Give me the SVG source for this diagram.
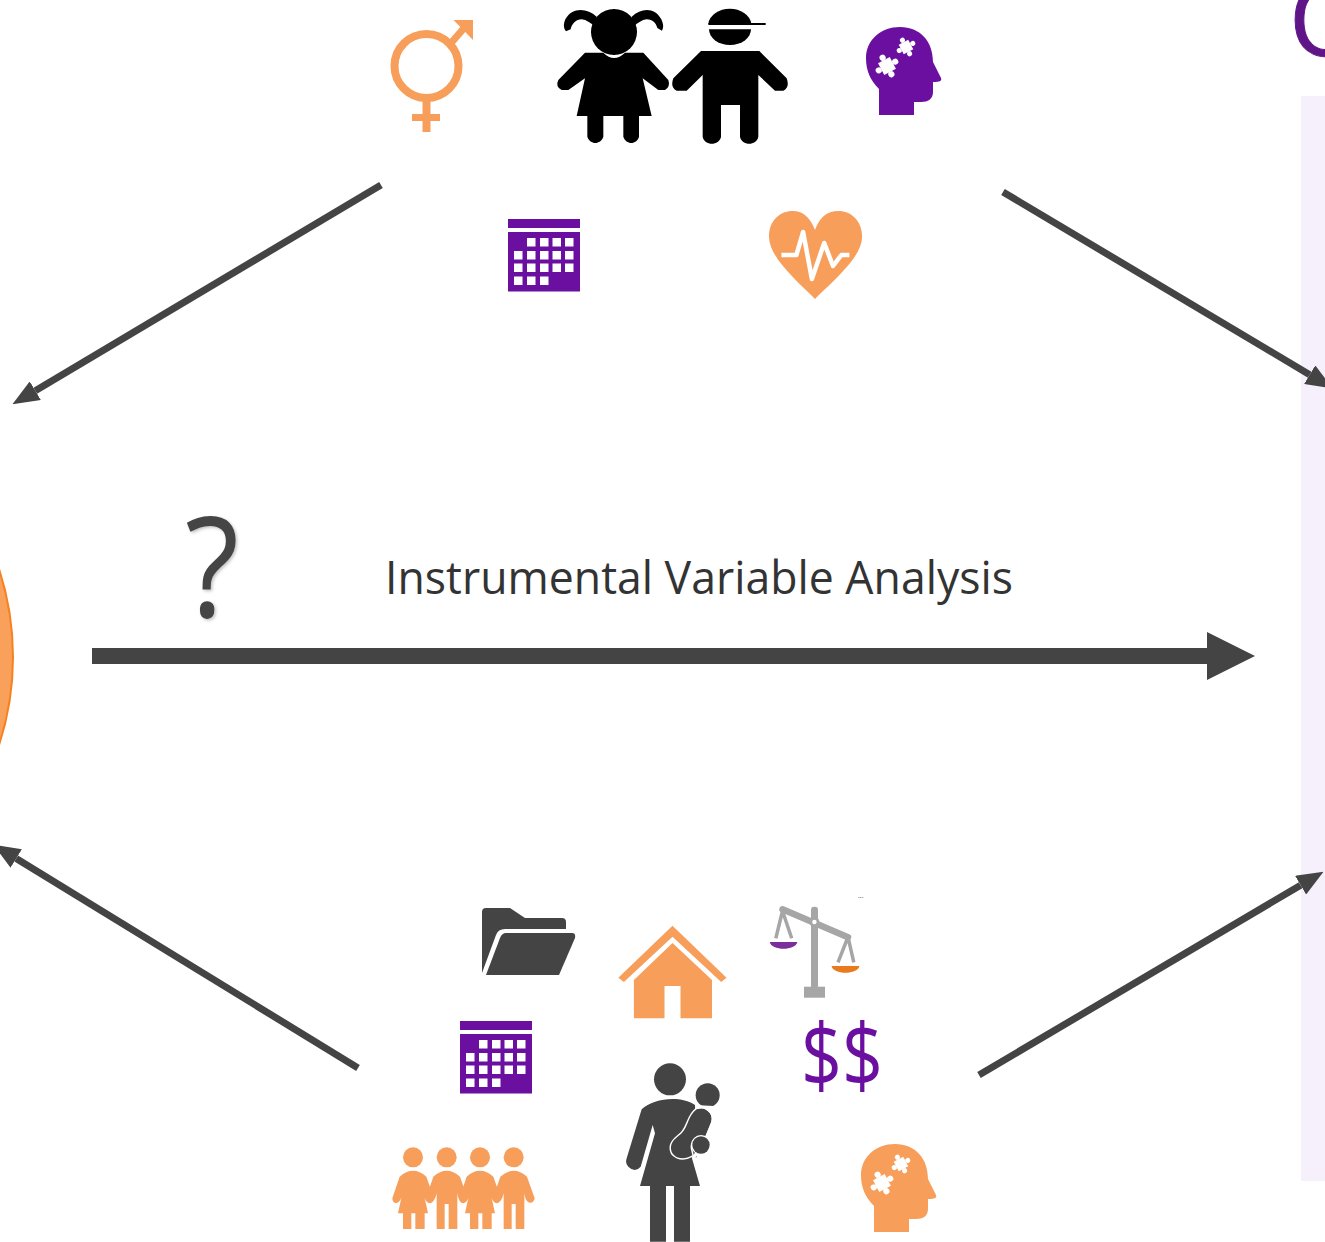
<svg xmlns="http://www.w3.org/2000/svg" xmlns:xlink="http://www.w3.org/1999/xlink" width="1325" height="1242" viewBox="0 0 1325 1242">
<style>
.o{fill:#F79E5A}.p{fill:#6B0FA0}.d{fill:#444444}.w{fill:#fff}.k{fill:#000}
.c{stroke:#444444;stroke-width:7;fill:none}
text{font-family:"Open Sans","Noto Sans","Liberation Sans",sans-serif}
</style>
<defs>
<marker id="ah" markerUnits="strokeWidth" markerWidth="3.8" markerHeight="3.1" refX="0" refY="1.55" orient="auto"><path d="M0,0L3.8,1.55L0,3.1Z" fill="#444444"/></marker>
<marker id="ahm" markerUnits="strokeWidth" markerWidth="3" markerHeight="3" refX="0" refY="1.5" orient="auto"><path d="M0,0L3,1.5L0,3Z" fill="#444444"/></marker>
<filter id="sh" x="-20%" y="-20%" width="140%" height="140%"><feDropShadow dx="1.5" dy="1.5" stdDeviation="1.5" flood-color="#000" flood-opacity=".25"/></filter>
<g id="piece"><rect x="-6" y="-6" width="12" height="12"/><circle cx="8.500" cy="0" r="2.800"/><circle cx="-8.500" cy="0" r="2.800"/><circle cx="0" cy="8.500" r="2.800"/><circle cx="0" cy="-8.500" r="2.800"/></g>
<g id="head"><path d="M13,88V62C4,53 0,43 0,31C0,13 15,0 34,0C54,0 67,14 67,35L75,51C76,54 74,55 67,55V65C67,72 62,75 55,75H48V88Z"/><use href="#piece" transform="translate(21,39) rotate(-28) scale(1.1)" fill="#fff"/><use href="#piece" transform="translate(40,20) rotate(-28) scale(.9)" fill="#fff"/></g>
<g id="cal"><rect x="0" y="0" width="72" height="9"/><rect x="0" y="13" width="72" height="59.500"/>
<g fill="#fff"><rect x="19" y="19" width="8.500" height="8.500"/><rect x="32" y="19" width="8.500" height="8.500"/><rect x="44.500" y="19" width="8.500" height="8.500"/><rect x="57" y="19" width="8.500" height="8.500"/>
<rect x="6" y="32" width="8.500" height="8.500"/><rect x="19" y="32" width="8.500" height="8.500"/><rect x="32" y="32" width="8.500" height="8.500"/><rect x="44.500" y="32" width="8.500" height="8.500"/><rect x="57" y="32" width="8.500" height="8.500"/>
<rect x="6" y="44.500" width="8.500" height="8.500"/><rect x="19" y="44.500" width="8.500" height="8.500"/><rect x="32" y="44.500" width="8.500" height="8.500"/><rect x="44.500" y="44.500" width="8.500" height="8.500"/><rect x="57" y="44.500" width="8.500" height="8.500"/>
<rect x="6" y="57.500" width="8.500" height="8.500"/><rect x="19" y="57.500" width="8.500" height="8.500"/><rect x="32" y="57.500" width="8.500" height="8.500"/></g></g>
<g id="fgirl"><circle cx="0" cy="322" r="30"/><path d="M-40,380Q0,345 40,380L63,445Q60,460 48,458Q35,455 32,430L45,490H35V537H7V490H-5V537H-30V490H-45L-32,430Q-35,455 -50,460Q-62,458 -62,445Z"/></g>
<g id="fboy"><circle cx="0" cy="322" r="30"/><path d="M-40,380Q0,345 40,380L63,445Q60,460 48,458Q35,455 32,430V537H6V462H-6V537H-30V430Q-35,455 -50,460Q-62,458 -62,445Z"/></g>
</defs>
<rect width="1325" height="1242" fill="#fff"/>
<g id="outcome-panel"><rect x="1301" y="96" width="24" height="1085" fill="#F6EFFC"/><text x="1289" y="56" font-size="100" fill="#5F1587" stroke="#5F1587" stroke-width="1">O</text></g>
<g id="exposure"><circle cx="-271" cy="657" r="284" fill="#F9A05A" stroke="#F58220" stroke-width="2"/></g>
<g id="connectors">
<line class="c" x1="381" y1="185" x2="35.300" y2="390.700" marker-end="url(#ah)"/>
<line class="c" x1="1003" y1="192" x2="1309.700" y2="374.700" marker-end="url(#ah)"/>
<line class="c" x1="358" y1="1068" x2="16.200" y2="858.600" marker-end="url(#ah)"/>
<line class="c" x1="979" y1="1075" x2="1300.600" y2="885.200" marker-end="url(#ah)"/>
<line x1="92" y1="656" x2="1207" y2="656" stroke="#444444" stroke-width="16" marker-end="url(#ahm)"/>
</g>
<g id="label-question"><text x="185" y="617" font-size="140" fill="#444444" filter="url(#sh)" textLength="54" lengthAdjust="spacingAndGlyphs">?</text></g>
<g id="label-iv"><text x="385" y="594" font-size="45" fill="#333333" textLength="628" lengthAdjust="spacingAndGlyphs">Instrumental Variable Analysis</text></g>
<g id="gender" class="o">
<circle cx="426.500" cy="66" r="32" fill="none" stroke="#F79E5A" stroke-width="8"/>
<rect x="422.500" y="100" width="8" height="32"/><rect x="412" y="114" width="28" height="7"/>
<path d="M449,40L462,25L467,30L454,45Z"/><path d="M453.500,20H473V40Z"/>
</g>
<g id="children" class="k" transform="translate(540,0) scale(.33333)">
<circle cx="222" cy="96" r="69"/>
<path d="M170,50C140,22 95,22 76,58C70,72 70,85 78,94L92,88C95,72 108,58 125,58C140,60 150,68 165,80Z"/>
<path d="M275,50C305,22 345,22 364,58C370,72 372,82 366,92L352,84C348,70 338,58 320,58C305,60 295,68 280,80Z"/>
<path d="M135,158H190Q222,190 255,158H310L385,240Q392,260 375,270H355L308,235L335,348H297V410C290,435 258,435 250,410V348H190V410C182,435 150,435 142,410V348H110L135,235L85,270H65Q45,260 55,240Z"/>
<path d="M505,71A65,51 0 0 1 634,71Z"/><path d="M507,88H633A63,47 0 0 1 507,88Z"/>
<rect x="505" y="69" width="172" height="6"/>
<path d="M483,153H658L740,235Q750,262 730,272H705L655,225V410C650,438 605,438 600,410V315H543V410C538,438 493,438 488,410V225L440,272H410Q390,262 400,235Z"/>
</g>
<g id="brain-purple" class="p" transform="translate(866,27)"><use href="#head"/></g>
<g id="calendar-top" class="p" transform="translate(508,219)"><use href="#cal"/></g>
<g id="heart" transform="translate(-.6,0)">
<path class="o" d="M815.600,299C800,283 769.600,258 769.600,236.700C769.600,221 780,211 793.400,211C804,211 811,218 815.600,230C820,218 827,211 839,211C852,211 862.700,221 862.700,236.700C862.700,258 831,283 815.600,299Z"/>
<path d="M782,255H797L803.700,232L812.500,279L824.800,243L833.600,266L842,255H850" fill="none" stroke="#fff" stroke-width="4.500" stroke-linejoin="round"/>
</g>
<g id="folder" class="d">
<path d="M482,912Q482,908 486,908H510L525,918H562Q566,918 566,922V929H505Q498,929 496,935L482,973Z"/>
<path d="M506,933H572Q576,933 575,938L559,975H486L500,938Q502,933 506,933Z"/>
</g>
<g id="house" class="o" transform="translate(-1.500,0)">
<path d="M674,925.700L728,977.700L722.700,982L674,936.700L625.400,982L619.800,977.700Z"/>
<path d="M674,943L713.500,980V1018.300H682V986H666V1018.300H635.400V980Z"/>
</g>
<g id="scales" transform="translate(-2,0)">
<rect x="813" y="906.700" width="7" height="82" rx="3" fill="#A6A6A6"/><rect x="806" y="986.700" width="21" height="11" fill="#A6A6A6"/>
<line x1="784.500" y1="909.300" x2="850" y2="937.300" stroke="#A6A6A6" stroke-width="6.500" stroke-linecap="round"/>
<circle cx="816.400" cy="922" r="5" fill="#A6A6A6"/><circle cx="816.400" cy="922" r="2.200" fill="#fff"/>
<path d="M784.500,911L777.800,938.300M784.500,911L793.700,938.300M850,937L840,962.300M850,937L855.800,962.300" fill="none" stroke="#A6A6A6" stroke-width="3.500"/>
<path d="M771.800,942H799.300C798,951 773,951 771.800,942Z" fill="#7B2D9B"/>
<path d="M833.500,966H861.400C860,975 835,975 833.500,966Z" fill="#E87B1E"/>
</g>
<g id="calendar-bottom" class="p" transform="translate(460,1021)"><use href="#cal"/></g>
<g id="money"><text x="801" y="1087" font-size="88" fill="#6B0FA0" textLength="82" lengthAdjust="spacingAndGlyphs">$$</text></g>
<g id="dots"><text x="858" y="898" font-size="7" fill="#444444">...</text></g>
<g id="mother" class="d" transform="translate(380,1050) scale(.33333)">
<circle cx="870" cy="88" r="48"/><circle cx="983" cy="136" r="36"/>
<path d="M785,178C820,145 900,135 945,165L950,322H935L960,408H930V575H882V408H858V575H810V408H780L825,250L818,225L782,350Q765,370 745,350Q735,340 740,325Z"/>
<path d="M950,178Q975,170 990,190Q1000,205 990,225L975,262C950,255 930,270 932,295L937,316C905,335 870,320 873,290C875,270 895,260 905,250C925,230 925,195 950,178Z" stroke="#fff" stroke-width="9" paint-order="stroke"/>
<path d="M950,175L945,165L1000,168L1000,260L940,330L936,322L975,262L990,225Q1000,205 990,190Q975,170 955,176Z" fill="#fff"/>
<circle cx="963" cy="285" r="26" stroke="#fff" stroke-width="8" paint-order="stroke"/>
</g>
<g id="family" class="o" transform="translate(380,1050) scale(.33333)">
<use href="#fgirl" x="99"/><use href="#fboy" x="200"/><use href="#fgirl" x="300"/><use href="#fboy" x="401"/>
</g>
<g id="brain-orange" class="o" transform="translate(861,1144)"><use href="#head"/></g>
</svg>
